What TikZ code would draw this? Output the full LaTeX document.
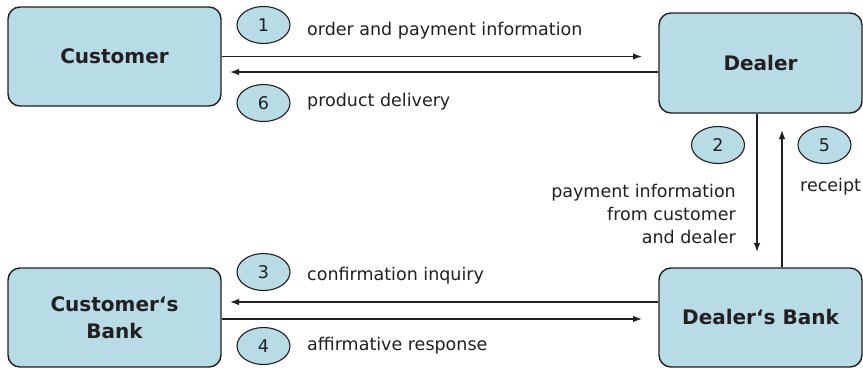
\documentclass[tikz,border=0pt]{standalone}
\usepackage{fontspec}
\setmainfont{DejaVu Sans}
\usetikzlibrary{arrows.meta,shapes.geometric}
\definecolor{boxfill}{RGB}{183,220,230}
\definecolor{ink}{RGB}{35,31,32}
\begin{document}
\begin{tikzpicture}[x=1pt,y=-1pt,
  party/.style={draw=ink, fill=boxfill, rounded corners=12pt, line width=1.4pt,
    minimum width=213pt, minimum height=99pt, font=\bfseries\fontsize{20}{27}\selectfont,
    text=ink, align=center, inner sep=0pt},
  num/.style={ellipse, draw=ink, fill=boxfill, line width=1.1pt, minimum width=53pt,
    minimum height=37pt, inner sep=0pt, font=\fontsize{17.5}{20}\selectfont, text=ink},
  lbl/.style={font=\fontsize{17.5}{23}\selectfont, text=ink, inner sep=0pt},
  flow/.style={draw=ink, line width=1.3pt, -{Latex[length=9pt,width=6.5pt]}}]
\useasboundingbox (0,0) rectangle (863,368);
\fill[white] (0,0) rectangle (863,368);
% parties
\node[party] (cust) at (114.5,56.5) {Customer};
\node[party, minimum width=203pt, minimum height=100pt] (dealer) at (760.5,63) {Dealer};
\node[party] (cbank) at (114.5,317.5) {Customer‘s\\Bank};
\node[party, minimum width=203pt] (dbank) at (760.5,317.5) {Dealer‘s Bank};
% free arrow ends
\coordinate (a1) at (642,56.5);
\coordinate (a6) at (230,72);
\coordinate (a2) at (757,252);
\coordinate (a5) at (782,130);
\coordinate (a3) at (230,302);
\coordinate (a4) at (642,319);
% connectors
\draw[flow] (a1 -| cust.east) -- (a1);
\draw[flow] (a6 -| dealer.west) -- (a6);
\draw[flow] (a2 |- dealer.south) -- (a2);
\draw[flow] (a5 |- dbank.north) -- (a5);
\draw[flow] (a3 -| dbank.west) -- (a3);
\draw[flow] (a4 -| cbank.east) -- (a4);
% step numbers
\node[num] (n1) at (263.5,25) {1};
\node[num] (n6) at (263.5,103) {6};
\node[num] (n3) at (263.5,272) {3};
\node[num] (n4) at (263.5,346) {4};
\node[num] (n2) at (718,145) {2};
\node[num] (n5) at (824.5,145) {5};
% labels
\node[lbl, anchor=base west] (l1) at (307,35) {order and payment information};
\node[lbl, anchor=base west] (l6) at (307,106) {product delivery};
\node[lbl, anchor=base west] (l3) at (307,280) {confirmation inquiry};
\node[lbl, anchor=base west] (l4) at (307,350) {affirmative response};
\node[lbl, anchor=base west] (l5) at (800,191) {receipt};
\node[lbl, align=right, anchor=north east] (l2) at (736,184) {payment information\\from customer\\and dealer};
\end{tikzpicture}
\end{document}
